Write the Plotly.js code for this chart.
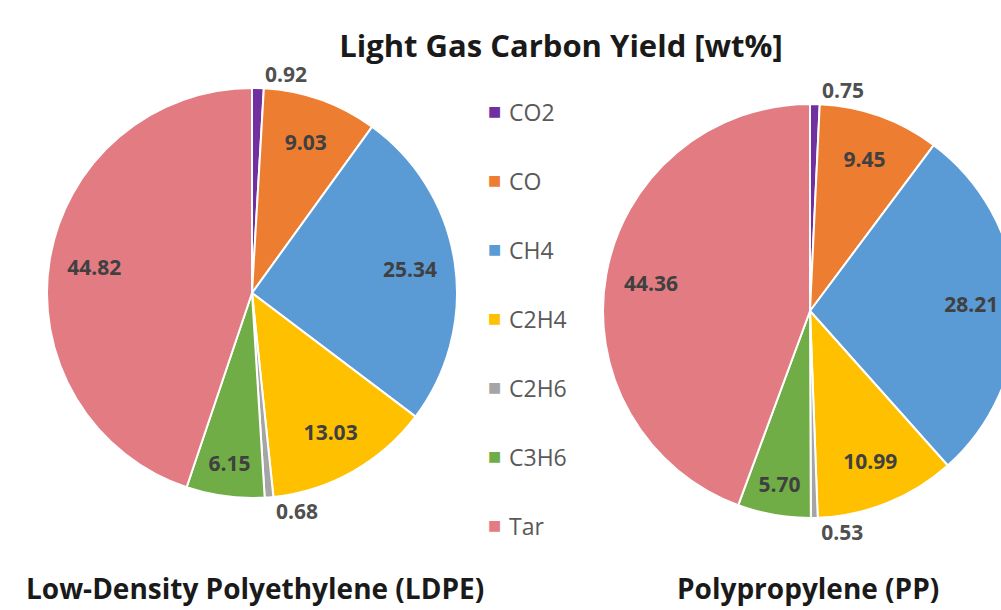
<!DOCTYPE html>
<html>
<head>
<meta charset="utf-8">
<script src="https://cdn.plot.ly/plotly-3.0.1.min.js"></script>
<style>
html,body{margin:0;padding:0;overflow:hidden;background:#fff;}
#chart{width:1030px;height:610px;}
</style>
</head>
<body>
<div id="chart"></div>
<script>
// ---- data ----
var gases = ["CO2", "CO", "CH4", "C2H4", "C2H6", "C3H6", "Tar"];
var ldpeValues = [0.92, 9.03, 25.34, 13.03, 0.68, 6.15, 44.82];
var ppValues = [0.75, 9.45, 28.21, 10.99, 0.53, 5.70, 44.36];
var sliceColors = ["#7030A0", "#ED7D31", "#5B9BD5", "#FFC000", "#A5A5A5", "#70AD47", "#E27B82"];
var textPositions = ["outside", "inside", "inside", "inside", "outside", "inside", "inside"];
var mainTitle = "Light Gas Carbon Yield [wt%]";
var ldpeTitle = "Low-Density Polyethylene (LDPE)";
var ppTitle = "Polypropylene (PP)";

var W = 1030, H = 610;
var FONT = "'Open Sans', sans-serif";

function pieTrace(values, dom) {
  return {
    type: "pie",
    labels: gases,
    values: values,
    sort: false,
    direction: "clockwise",
    rotation: 0,
    marker: {colors: sliceColors, line: {color: "#ffffff", width: 2}},
    textinfo: "none",
    showlegend: false,
    hoverinfo: "label+value",
    domain: dom
  };
}
// transparent ring that carries the value labels (puts them out toward the rim)
function labelTrace(values, dom) {
  return {
    type: "pie",
    labels: gases,
    values: values,
    sort: false,
    direction: "clockwise",
    rotation: 0,
    hole: 0.56,
    marker: {colors: gases.map(function () { return "rgba(0,0,0,0)"; }), line: {width: 0}},
    textinfo: "value",
    texttemplate: "%{value:.2f}",
    textposition: textPositions,
    insidetextorientation: "horizontal",
    insidetextfont: {family: FONT, size: 21, color: "#404040", weight: "bold"},
    outsidetextfont: {family: FONT, size: 21, color: "#505050", weight: "bold"},
    showlegend: false,
    hoverinfo: "skip",
    domain: dom
  };
}

var domL = {x: [47 / W, 457 / W], y: [1 - 498 / H, 1 - 88 / H]};
var domR = {x: [603 / W, 1017 / W], y: [1 - 518 / H, 1 - 104 / H]};
var traces = [
  pieTrace(ldpeValues, domL), labelTrace(ldpeValues, domL),
  pieTrace(ppValues, domR), labelTrace(ppValues, domR)
];

var annotations = [];
// legend built from categories
var legTop = 111, legStep = 69;
gases.forEach(function (g, i) {
  var yp = 1 - (legTop + i * legStep) / H;
  annotations.push({
    xref: "paper", yref: "paper", x: 494 / W, y: yp,
    xanchor: "center", yanchor: "middle", showarrow: false,
    text: "■", font: {family: "DejaVu Sans", size: 14, color: sliceColors[i]}
  });
  annotations.push({
    xref: "paper", yref: "paper", x: 507 / W, y: yp - 1 / H,
    xanchor: "left", yanchor: "middle", showarrow: false,
    text: g, font: {family: FONT, size: 23, color: "#595959"}
  });
});
annotations.push({
  xref: "paper", yref: "paper", x: 255 / W, y: 1 - 588 / H,
  xanchor: "center", yanchor: "middle", showarrow: false,
  text: "<b>" + ldpeTitle + "</b>", font: {family: FONT, size: 28, color: "#1a1a1a"}
});
annotations.push({
  xref: "paper", yref: "paper", x: 808 / W, y: 1 - 588 / H,
  xanchor: "center", yanchor: "middle", showarrow: false,
  text: "<b>" + ppTitle + "</b>", font: {family: FONT, size: 28, color: "#1a1a1a"}
});

var layout = {
  width: W, height: H,
  margin: {l: 0, r: 0, t: 0, b: 0},
  paper_bgcolor: "#ffffff",
  title: {
    text: "<b>" + mainTitle + "</b>",
    x: 561 / W, xanchor: "center", xref: "paper",
    y: 1 - 46 / H, yanchor: "middle", yref: "paper",
    font: {family: FONT, size: 31, color: "#1a1a1a"}
  },
  annotations: annotations,
  showlegend: false
};

Plotly.newPlot("chart", traces, layout, {displayModeBar: false, staticPlot: true});
</script>
</body>
</html>
